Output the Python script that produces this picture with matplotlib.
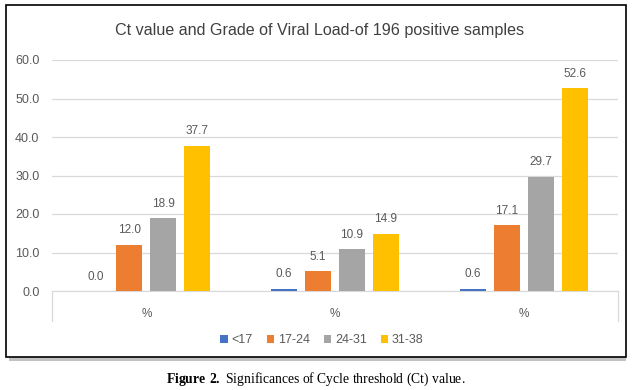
import matplotlib.pyplot as plt
from matplotlib.patches import Rectangle

# Данні з діаграми
categories = ["%", "%", "%"]
series_names = ["<17", "17-24", "24-31", "31-38"]
values = [
    [0.0, 0.6, 0.6],      # <17
    [12.0, 5.1, 17.1],    # 17-24
    [18.9, 10.9, 29.7],   # 24-31
    [37.7, 14.9, 52.6],   # 31-38
]
colors = ["#4472C4", "#ED7D31", "#A5A5A5", "#FFC000"]
TEXT = "#595959"

plt.rcParams["font.family"] = ["Liberation Sans", "DejaVu Sans"]
plt.rcParams["mathtext.fontset"] = "custom"
plt.rcParams["mathtext.bf"] = "Liberation Serif:bold"
plt.rcParams["mathtext.rm"] = "Liberation Serif"

fig = plt.figure(figsize=(6.34, 3.90), dpi=100)
W, H = 634, 390


def fx(px):
    return px / W


def fy(py):
    return 1 - py / H


# Рамка з тінню
fig.patches.append(Rectangle((fx(9), fy(361)), fx(621) - fx(4), fy(9) - fy(361),
                             transform=fig.transFigure, facecolor="#9a9a9a",
                             edgecolor="none", alpha=0.6, zorder=0))
fig.patches.append(Rectangle((fx(6), fy(357)), fx(626) - fx(6), fy(5) - fy(357),
                             transform=fig.transFigure, facecolor="white",
                             edgecolor="black", linewidth=1.2, zorder=1))

ax = fig.add_axes([fx(52), fy(291), fx(618) - fx(52), fy(60) - fy(291)])
ax.set_zorder(2)
ax.patch.set_alpha(0)

x = range(len(categories))
pitch = 0.18
width = 0.138
for i, (name, vals, col) in enumerate(zip(series_names, values, colors)):
    pos = [xi + (i - 1.5) * pitch for xi in x]
    bars = ax.bar(pos, vals, width=width, color=col, label=name, zorder=3)
    for b, v in zip(bars, vals):
        ax.text(b.get_x() + b.get_width() / 2, v + 2.2, f"{v:.1f}",
                ha="center", va="bottom", fontsize=8.5, color=TEXT)

ax.set_xlim(-0.5, 2.5)
ax.set_ylim(0, 60)
ax.set_yticks(range(0, 61, 10))
ax.set_yticklabels([f"{v:.1f}" for v in range(0, 61, 10)])
ax.yaxis.grid(True, color="#D9D9D9", linewidth=0.9, zorder=0)
ax.set_axisbelow(True)
for s in ["top", "right", "left"]:
    ax.spines[s].set_visible(False)
ax.spines["bottom"].set_color("#D9D9D9")
ax.tick_params(axis="y", length=0, labelsize=9, labelcolor=TEXT, pad=9)
ax.set_xticks(list(x))
ax.set_xticklabels(categories)
ax.tick_params(axis="x", length=0, labelsize=8.5, labelcolor=TEXT, pad=12)

# Межі категорій
for xe in [-0.5, 2.5]:
    ax.plot([xe, xe], [0, -7.8], color="#D9D9D9", linewidth=0.9, clip_on=False)

fig.text(fx(320), fy(30), "Ct value and Grade of Viral Load-of 196 positive samples",
         ha="center", va="center", fontsize=11.6, color="#404040", zorder=3)

fig.legend(loc="center", bbox_to_anchor=(fx(322), fy(340)), ncol=4, frameon=False,
           fontsize=9, handlelength=0.6, handleheight=0.6, handletextpad=0.3,
           columnspacing=1.1, labelcolor=TEXT)

fig.text(fx(316), fy(379), r"$\mathbf{Figure\ 2.}$ Significances of Cycle threshold (Ct) value.",
         ha="center", va="center", fontsize=9.8, family="Liberation Serif")

fig.savefig("out.png", dpi=100)
